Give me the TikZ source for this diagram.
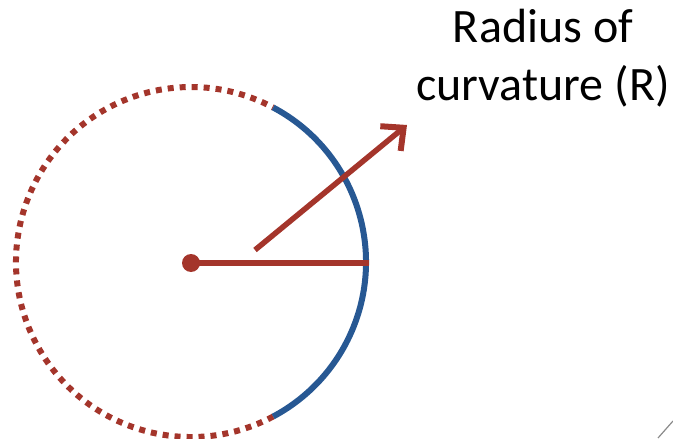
\documentclass[tikz,border=0pt]{standalone}
\usepackage{fontspec}
\setmainfont{Carlito}
\usepackage{tikz}
\usetikzlibrary{arrows.meta,calc}
\definecolor{rustred}{HTML}{A4352B}
\definecolor{arcblue}{HTML}{275893}
\definecolor{faintgray}{HTML}{8A8A8A}
\tikzset{
  dotcirc/.style={draw=rustred, line width=6pt, dash pattern=on 6pt off 6pt},
  blarc/.style={draw=arcblue, line width=6pt},
  rline/.style={draw=rustred, line width=5.5pt},
  rarrow/.style={rline, -{Straight Barb[length=17pt,width=32pt,line width=6pt]}},
  lbl/.style={font=\fontsize{48}{58}\selectfont, align=center, anchor=base},
}
\begin{document}
\begin{tikzpicture}[x=1pt,y=-1pt]
  \useasboundingbox (0,0) rectangle (673,439);
  % circle and the highlighted part
  \coordinate (c) at (191,262);
  \draw[dotcirc] (c) ++(62:175) arc (62:298:175);
  \draw[blarc] (c) ++(-62:175) arc (-62:62:175);
  % radius
  \node[circle, fill=rustred, inner sep=0pt, minimum size=18pt] (ctr) at (191,263) {};
  \coordinate (rim) at (369,263);
  \draw[rline] (ctr.center) -- (rim);
  % arrow to the label
  \coordinate (tail) at (255,250);
  \coordinate (tip) at (407,125);
  \draw[rarrow] (tail) -- (tip);
  \node[lbl] (radlbl) at (543,100) {Radius of\\curvature (R)};
  % stray mark in the corner
  \coordinate (m1) at (658,438);
  \coordinate (m2) at (673,421);
  \draw[faintgray, line width=1.2pt] (m1) -- (m2);
\end{tikzpicture}
\end{document}
